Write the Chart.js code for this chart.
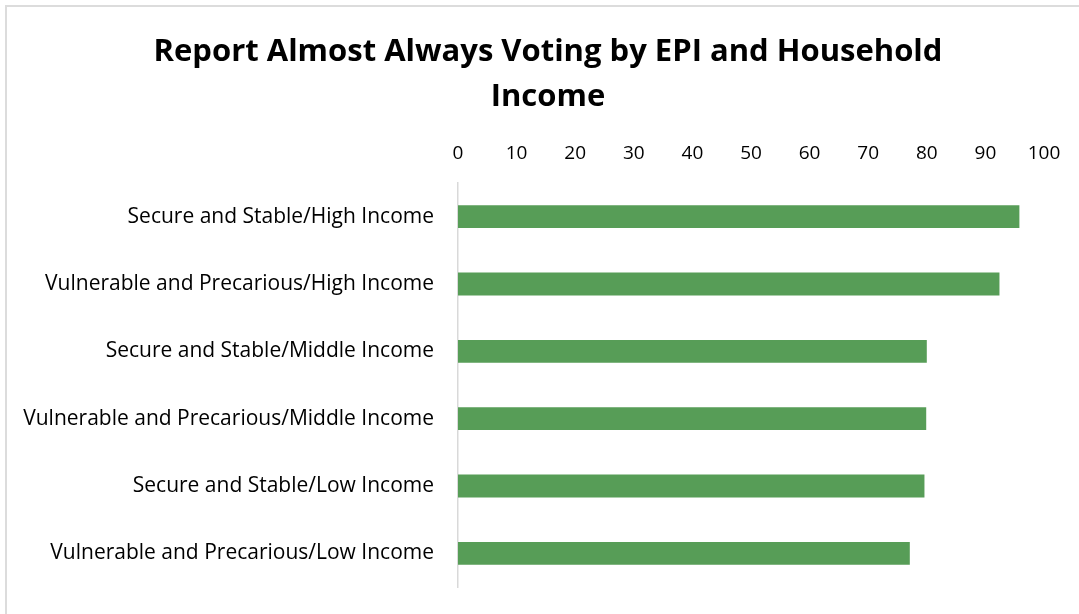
<!DOCTYPE html>
<html>
<head>
<meta charset="utf-8">
<script src="https://cdn.jsdelivr.net/npm/chart.js@4"></script>
<style>
  html, body { margin: 0; padding: 0; background: #fff; }
  #wrap { position: relative; width: 1079px; height: 614px; overflow: hidden; }
  #frame { position: absolute; left: 5px; top: 5px; width: 1100px; height: 640px;
           border: 2px solid #dcdcdc; box-sizing: border-box; pointer-events: none; }
  canvas { position: absolute; left: 0; top: 0; }
</style>
</head>
<body>
<div id="wrap">
  <canvas id="chart" width="1079" height="614"></canvas>
  <div id="frame"></div>
</div>
<script>
// Share reporting they almost always vote, by EPI group and household income
const CATEGORIES = [
    "Secure and Stable/High Income",
    "Vulnerable and Precarious/High Income",
    "Secure and Stable/Middle Income",
    "Vulnerable and Precarious/Middle Income",
    "Secure and Stable/Low Income",
    "Vulnerable and Precarious/Low Income",
];
const VOTING_PCT = [95.8, 92.4, 80.0, 79.9, 79.6, 77.1];
const AXIS_MIN  = 0;
const AXIS_MAX  = 100;
const AXIS_STEP = 10;

const TITLE_LINES = ["Report Almost Always Voting by EPI and Household", "Income"];
const BAR_GREEN   = "#579d57";
const FONT        = "'Open Sans', Lato, sans-serif";

// Title drawn by hand so it can sit off-centre like the original layout
const titlePlugin = {
    id: "twoLineTitle",
    afterDraw(chart) {
        const ctx = chart.ctx;
        ctx.save();
        ctx.font = `bold 31px ${FONT}`;
        ctx.fillStyle = "#000";
        ctx.textAlign = "center";
        ctx.textBaseline = "middle";
        TITLE_LINES.forEach((line, i) => ctx.fillText(line, 548, 52 + i * 45));
        ctx.restore();
    },
};

new Chart(document.getElementById("chart").getContext("2d"), {
    type: "bar",
    data: {
        labels: CATEGORIES,
        datasets: [{
            data: VOTING_PCT,
            backgroundColor: BAR_GREEN,
            borderWidth: 0,
            categoryPercentage: 1.0,
            barPercentage: 0.34,
        }],
    },
    plugins: [titlePlugin],
    options: {
        indexAxis: "y",
        responsive: false,
        animation: false,
        layout: { padding: { left: 0, right: 35, top: 118, bottom: 27 } },
        plugins: {
            legend: { display: false },
            tooltip: { enabled: false },
            title: { display: false },
        },
        scales: {
            x: {
                position: "top",
                min: AXIS_MIN, max: AXIS_MAX,
                grid: { display: false, drawTicks: false },
                border: { display: false },
                ticks: {
                    stepSize: AXIS_STEP,
                    color: "#000",
                    padding: 18,
                    font: { family: FONT, size: 19 },
                },
                afterFit: s => { s.height = 65; },
            },
            y: {
                grid: { display: false, drawTicks: false },
                border: { display: true, color: "#d9d9d9", width: 1.5 },
                ticks: {
                    color: "#000",
                    padding: 24,
                    font: { family: FONT, size: 21 },
                },
                // fixed label column; drop the tick-padding overhang top and bottom
                afterFit: s => { s.width = 458; s.paddingTop = 0; s.paddingBottom = 0; },
            },
        },
    },
});
</script>
</body>
</html>
